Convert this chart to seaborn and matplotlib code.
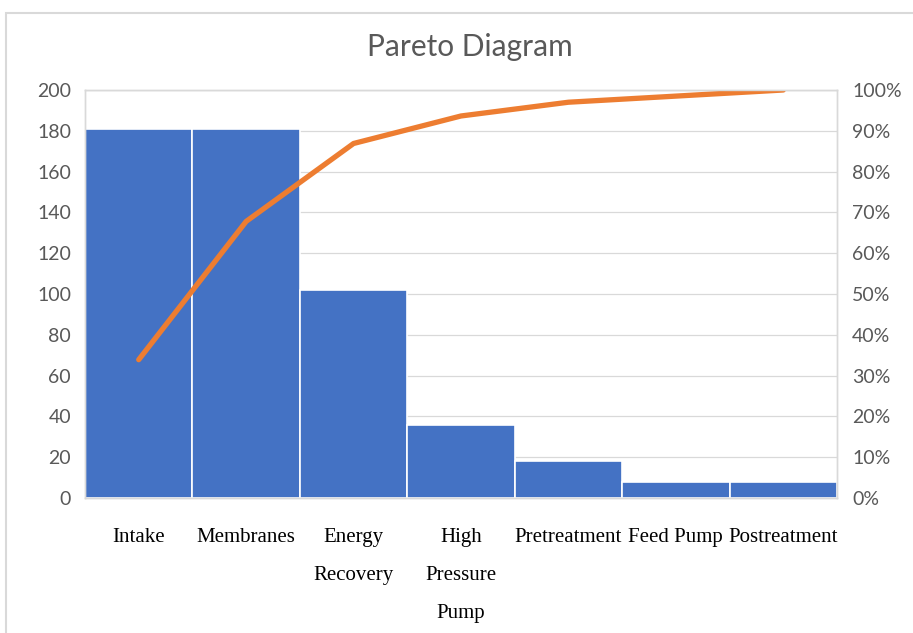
import seaborn as sns
import matplotlib.pyplot as plt
import matplotlib.patches as mpatches
from matplotlib.ticker import PercentFormatter

categories = ['Intake', 'Membranes', 'Energy\nRecovery', 'High\nPressure\nPump',
              'Pretreatment', 'Feed Pump', 'Postreatment']
counts = [181, 181, 102, 36, 18, 8, 8]

total = sum(counts)
cum_pct = []
running = 0
for c in counts:
    running += c
    cum_pct.append(running / total)

sns.set_theme(style='white')
plt.rcParams['font.family'] = ['Lato', 'DejaVu Sans']

fig = plt.figure(figsize=(9.13, 6.33), dpi=100)
# chart frame like the Excel chart area
fig.patches.append(mpatches.Rectangle((6 / 913, -0.05), 1.0, 1 - 13 / 633 + 0.05,
                                      transform=fig.transFigure, fill=False,
                                      edgecolor='#D9D9D9', linewidth=1.5))
ax = fig.add_axes([85 / 913, 1 - 498 / 633, 752 / 913, 408 / 633])

sns.barplot(x=categories, y=counts, color='#4472C4', saturation=1, width=1,
            edgecolor='white', linewidth=1.2, ax=ax)
ax.set_ylim(0, 200)
ax.set_yticks(range(0, 201, 20))
ax.set_xlim(-0.5, len(categories) - 0.5)
ax.set_axisbelow(True)
ax.yaxis.grid(True, color='#D9D9D9', linewidth=0.9)
ax.set_xlabel('')
ax.set_ylabel('')

ax2 = ax.twinx()
sns.lineplot(x=categories, y=cum_pct, sort=False, color='#ED7D31',
             linewidth=3.8, ax=ax2)
ax2.set_ylim(0, 1)
ax2.set_yticks([i / 10 for i in range(11)])
ax2.yaxis.set_major_formatter(PercentFormatter(1, decimals=0))
ax2.set_xlim(-0.5, len(categories) - 0.5)

for a in (ax, ax2):
    for s in a.spines.values():
        s.set_color('#D9D9D9')
        s.set_linewidth(1)
    a.tick_params(length=0)

ax.tick_params(axis='y', labelsize=14, labelcolor='#595959', pad=10)
ax2.tick_params(axis='y', labelsize=14, labelcolor='#595959', pad=11)
ax.tick_params(axis='x', pad=21.5)
for lbl in ax.get_xticklabels():
    lbl.set_fontfamily('Liberation Serif')
    lbl.set_fontsize(15)
    lbl.set_color('#000000')
    lbl.set_linespacing(2.35)
    lbl.set_verticalalignment('top')

fig.text(470 / 913, 1 - 47 / 633, 'Pareto Diagram', ha='center', va='center',
         fontsize=21.5, color='#595959')

fig.savefig('out.png', dpi=100)
